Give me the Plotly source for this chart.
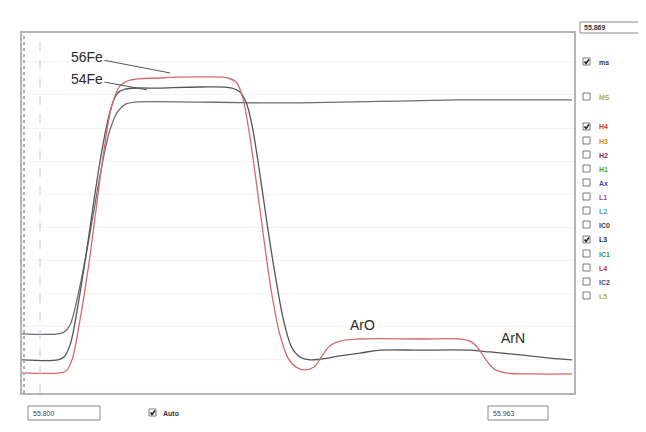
import plotly.graph_objects as go

# ---- data (scan position vs. relative intensity, %) ----
fe56_x = [0, 38, 44, 50, 58, 66, 74, 82, 90, 98, 108, 138, 178, 206, 214, 220, 226, 234, 242, 250,
          258, 266, 274, 283, 292, 300, 308, 318, 338, 398, 438, 448, 456, 464, 472, 483, 508, 550]
fe56_y = [5.6, 5.6, 6.1, 9.2, 20.3, 34.2, 50.8, 67.5, 80.0, 85.3, 86.9, 87.5, 87.8, 87.5, 86.4, 82.8,
          74.4, 59.2, 42.5, 27.2, 16.1, 9.7, 7.2, 6.4, 7.2, 10.3, 13.1, 14.4, 15.0, 15.0, 15.0, 14.4,
          12.5, 9.2, 6.7, 5.6, 5.3, 5.3]

fe54_x = [0, 36, 42, 48, 56, 64, 72, 80, 88, 95, 103, 138, 178, 210, 218, 224, 230, 238, 246, 254,
          262, 270, 278, 288, 298, 318, 338, 358, 398, 448, 468, 498, 528, 550]
fe54_y = [9.2, 9.2, 10.0, 13.3, 24.4, 38.3, 53.6, 67.5, 78.1, 83.1, 84.4, 84.7, 85.0, 84.7, 83.6,
          80.8, 74.4, 60.6, 45.3, 31.4, 19.7, 12.5, 10.0, 9.2, 9.4, 10.3, 11.1, 11.9, 11.9, 11.9,
          11.4, 10.6, 9.7, 9.2]

flat_x = [0, 36, 42, 48, 56, 64, 72, 80, 88, 96, 104, 113, 178, 238, 278, 318, 378, 438, 498, 550]
flat_y = [16.4, 16.4, 16.9, 18.9, 27.2, 38.3, 50.8, 63.3, 73.1, 78.3, 80.3, 80.8, 80.8, 80.6, 80.6,
          80.8, 81.1, 81.4, 81.4, 81.4]

cup_labels = ["ms", "MS", "H4", "H3", "H2", "H1", "Ax", "L1", "L2", "IC0", "L3", "IC1", "L4", "IC2", "L5"]
cup_checked = [True, False, True, False, False, False, False, False, False, False, True, False, False, False, False]
cup_colors = ["#333333", "#b8a84a", "#d03030", "#d08a30", "#803070", "#40a040", "#3a50a0", "#b040b0",
              "#40a8c0", "#404040", "#303050", "#30906a", "#c03030", "#50407a", "#b8b030"]

mass_low = "55.800"
mass_high = "55.963"
mass_top = "55.869"

# page has an 8px body margin: the figure is placed at (8, 8)
OFF = 8
W, H = 646 - OFF, 432 - OFF
L, R, T, B = 22, 574, 33, 393   # plot frame in page pixels


def px(x):
    return (x - L) / (R - L)


def py(y):
    return (B - y) / (B - T)


fig = go.Figure()
fig.add_trace(go.Scatter(x=flat_x, y=flat_y, mode="lines", line=dict(color="#6c6c78", width=1.3, shape="spline"),
                         showlegend=False))
fig.add_trace(go.Scatter(x=fe54_x, y=fe54_y, mode="lines", line=dict(color="#55555c", width=1.3, shape="spline"),
                         showlegend=False))
fig.add_trace(go.Scatter(x=fe56_x, y=fe56_y, mode="lines", line=dict(color="#d66a6a", width=1.3, shape="spline"),
                         showlegend=False))

shapes = []
# left vertical guide lines
shapes.append(dict(type="line", xref="paper", yref="paper", x0=px(24), x1=px(24), y0=0, y1=1,
                   line=dict(color="#b0b0b8", width=2, dash="dot"), layer="above"))
shapes.append(dict(type="line", xref="paper", yref="paper", x0=px(40), x1=px(40), y0=0, y1=1,
                   line=dict(color="#c8c8d0", width=1, dash="dash"), layer="above"))


def checkbox(cx, cy, checked):
    shapes.append(dict(type="rect", xref="paper", yref="paper", x0=px(cx), x1=px(cx + 7), y0=py(cy + 7), y1=py(cy),
                       fillcolor="white", line=dict(color="#7a7a7a", width=1)))
    if checked:
        shapes.append(dict(type="path", xref="paper", yref="paper",
                           path=f"M {px(cx+1.5)},{py(cy+3.5)} L {px(cx+3)},{py(cy+5.5)} L {px(cx+6)},{py(cy+1.5)}",
                           line=dict(color="#222222", width=1.6)))


def box(x0, x1, y0, y1):
    shapes.append(dict(type="rect", xref="paper", yref="paper", x0=px(x0), x1=px(x1), y0=py(y1), y1=py(y0),
                       fillcolor="white", line=dict(color="#8a8a8a", width=1)))


annotations = []
small = dict(size=7, family="Liberation Sans, Arial")
ys = [62, 97, 127, 141, 155, 169, 183, 197, 211, 225, 240, 254, 268, 282, 296]
for lab, chk, col, yy in zip(cup_labels, cup_checked, cup_colors, ys):
    checkbox(583, yy - 4, chk)
    annotations.append(dict(x=px(597), y=py(yy), xref="paper", yref="paper", text=f"<b>{lab}</b>",
                            showarrow=False, xanchor="left", yanchor="middle", font=dict(small, color=col)))

box(580, 640, 22, 33)
annotations.append(dict(x=px(582), y=py(27.5), xref="paper", yref="paper", text=f"<b>{mass_top}</b>",
                        showarrow=False, xanchor="left", yanchor="middle", font=dict(small, color="#333")))
box(28, 100, 406, 420)
annotations.append(dict(x=px(31), y=py(413), xref="paper", yref="paper", text=mass_low, showarrow=False,
                        xanchor="left", yanchor="middle", font=dict(small, color="#444")))
box(488, 548, 406, 420)
annotations.append(dict(x=px(491), y=py(413), xref="paper", yref="paper", text=mass_high, showarrow=False,
                        xanchor="left", yanchor="middle", font=dict(small, color="#444")))
checkbox(149, 409, True)
annotations.append(dict(x=px(161), y=py(413), xref="paper", yref="paper", text="<b>Auto</b>", showarrow=False,
                        xanchor="left", yanchor="middle", font=dict(small, color="#333")))

# peak labels
lab_font = dict(size=14, color="#2a2a2a", family="Liberation Sans, Arial")
annotations.append(dict(x=148, y=88.9, xref="x", yref="y", text="56Fe", showarrow=True, arrowhead=0,
                        arrowwidth=1, arrowcolor="#555", ax=-83, ay=-16, font=lab_font))
annotations.append(dict(x=125, y=84.2, xref="x", yref="y", text="54Fe", showarrow=True, arrowhead=0,
                        arrowwidth=1, arrowcolor="#555", ax=-60, ay=-11, font=lab_font))
annotations.append(dict(x=340, y=18.9, xref="x", yref="y", text="ArO", showarrow=False, font=lab_font))
annotations.append(dict(x=491, y=15.3, xref="x", yref="y", text="ArN", showarrow=False, font=lab_font))

fig.update_layout(
    width=W, height=H,
    margin=dict(l=L - OFF, r=646 - R, t=T - OFF, b=432 - B, pad=0),
    paper_bgcolor="white",
    plot_bgcolor="white",
    shapes=shapes,
    annotations=annotations,
    xaxis=dict(range=[0, 552], showgrid=False, zeroline=False, showticklabels=False, ticks="",
               showline=True, mirror=True, linecolor="#b4b4bc", linewidth=1.5, fixedrange=True),
    yaxis=dict(range=[0, 100], showgrid=True, gridcolor="#f4f4f6", dtick=9.2, zeroline=False,
               showticklabels=False, ticks="", showline=True, mirror=True, linecolor="#b4b4bc",
               linewidth=1.5, fixedrange=True),
)

fig.write_html("out.html")
